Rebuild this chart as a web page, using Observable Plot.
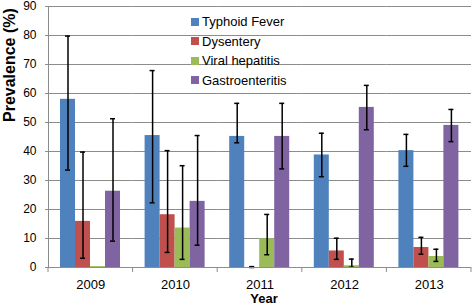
<!DOCTYPE html>
<html>
<head>
<meta charset="utf-8">
<script src="https://cdn.jsdelivr.net/npm/d3@7"></script>
<script src="https://cdn.jsdelivr.net/npm/@observablehq/plot@0.6"></script>
<style>
  body { margin: 0; background: #fff; }
  #wrap { position: relative; width: 472px; height: 305px; font-family: "Liberation Sans", Arial, Helvetica, sans-serif; }
  #legend { position: absolute; left: 191px; top: 11.7px; }
  .row { display: flex; align-items: center; height: 19.67px; font-size: 13px; color: #000; }
  .sw { width: 8px; height: 8px; margin-right: 3px; }
</style>
</head>
<body>
<div id="wrap"></div>
<script>
const years = ["2009", "2010", "2011", "2012", "2013"];
const series = ["Typhoid Fever", "Dysentery", "Viral hepatitis", "Gastroenteritis"];
const colors = ["#4f81bd", "#c0504d", "#9bbb59", "#8064a2"];
const yTicks = [0, 10, 20, 30, 40, 50, 60, 70, 80, 90];

const typhoid   = [58.0, 45.5, 45.2, 38.8, 40.3];
const typhoidLo = [33.6, 22.3, 43.0, 31.3, 34.9];
const typhoidHi = [79.8, 67.9, 56.6, 46.3, 45.9];

const dysentery   = [15.9, 18.2, 0.0, 5.7, 6.9];
const dysenteryLo = [3.2, 5.2, 0.0, 2.8, 4.6];
const dysenteryHi = [39.8, 40.3, 0.3, 10.1, 10.4];

const viral   = [0.3, 13.6, 9.9, 0.6, 3.8];
const viralLo = [null, 2.8, 4.4, 0.1, 2.1];
const viralHi = [null, 35.1, 18.3, 2.9, 6.3];

const gastro   = [26.3, 22.8, 45.2, 55.2, 49.0];
const gastroLo = [9.1, 7.7, 34.0, 47.5, 43.4];
const gastroHi = [51.3, 45.5, 56.6, 62.8, 54.5];

const values = [typhoid, dysentery, viral, gastro];
const lows = [typhoidLo, dysenteryLo, viralLo, gastroLo];
const highs = [typhoidHi, dysenteryHi, viralHi, gastroHi];

const data = years.flatMap((yr, i) => series.map((s, j) => ({
  year: yr, series: s, value: values[j][i], lo: lows[j][i], hi: highs[j][i]
})));
const errData = data.filter(d => d.lo != null && d.hi != null);

const axisColor = "#8c8c8c";
const W = 472, H = 305, mT = 6, mB = 38;

const chart = Plot.plot({
  width: W, height: H,
  marginLeft: 48, marginRight: 1, marginTop: mT, marginBottom: mB,
  style: { fontFamily: "'Liberation Sans', Arial, Helvetica, sans-serif", fontSize: "12px", color: "#000", background: "transparent" },
  fx: { domain: years, padding: 0, round: false, label: null, axis: null },
  x: { domain: series, paddingInner: 0, paddingOuter: 0.73, axis: null },
  y: { domain: [0, 90], axis: null },
  color: { domain: series, range: colors },
  marks: [
    Plot.gridY(yTicks.slice(1), { stroke: axisColor, strokeOpacity: 1 }),
    Plot.barY(data, { fx: "year", x: "series", y: "value", fill: "series" }),
    Plot.ruleX(errData, { fx: "year", x: "series", y1: "lo", y2: "hi", stroke: "#000", strokeWidth: 1.5 }),
    Plot.tickY(errData, { fx: "year", x: "series", y: "lo", insetLeft: 5, insetRight: 5, stroke: "#000", strokeWidth: 1.5 }),
    Plot.tickY(errData, { fx: "year", x: "series", y: "hi", insetLeft: 5, insetRight: 5, stroke: "#000", strokeWidth: 1.5 }),
    Plot.ruleY([0], { stroke: axisColor }),
    Plot.frame({ anchor: "left", facet: "super", stroke: axisColor }),
    Plot.axisY({ ticks: yTicks, tickSize: 3, tickPadding: 9, fontSize: 12, label: null, stroke: axisColor, fill: "#000" }),
    Plot.axisFx({ anchor: "bottom", tickSize: 0, tickPadding: 12, fontSize: 13, label: null, fill: "#000" }),
    Plot.text(["Prevalence (%)"], { facet: "super", frameAnchor: "left", rotate: -90, dx: -39, dy: -15, fontWeight: "bold", fontSize: 16, fill: "#000" }),
    Plot.text(["Year"], { facet: "super", frameAnchor: "bottom", dx: 4, dy: 31, lineAnchor: "middle", fontWeight: "bold", fontSize: 13, fill: "#000" })
  ]
});

// category boundary ticks below the x axis, placed with the chart's own fx and y scales
const fx = chart.scale("fx");
const base = chart.scale("y").apply(0);
const bounds = years.map(y => fx.apply(y)).concat([fx.apply(years[years.length - 1]) + fx.bandwidth]);
d3.select(chart).append("g")
  .attr("stroke", axisColor)
  .selectAll("line").data(bounds).join("line")
  .attr("x1", d => d).attr("x2", d => d)
  .attr("y1", base).attr("y2", base + 5);

const wrap = document.getElementById("wrap");
wrap.appendChild(chart);

const legend = document.createElement("div");
legend.id = "legend";
series.forEach((s, j) => {
  const row = document.createElement("div");
  row.className = "row";
  const sw = document.createElement("span");
  sw.className = "sw";
  sw.style.background = colors[j];
  const t = document.createElement("span");
  t.textContent = s;
  row.appendChild(sw);
  row.appendChild(t);
  legend.appendChild(row);
});
wrap.appendChild(legend);
</script>
</body>
</html>
